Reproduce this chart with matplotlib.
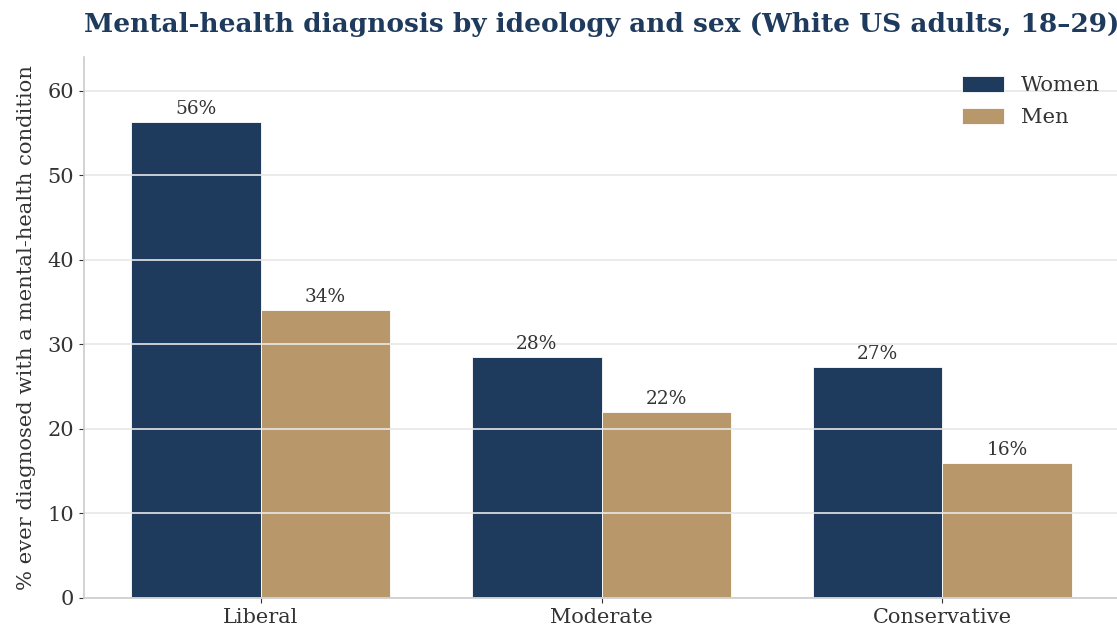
import numpy as np
import matplotlib.pyplot as plt

plt.rcParams['font.family'] = 'DejaVu Serif'

ideology = ['Liberal', 'Moderate', 'Conservative']
women = [56.3, 28.5, 27.3]
men = [34.1, 22.0, 16.0]

navy = '#1e3a5c'
tan = '#b8986a'
txt = '#333333'

fig = plt.figure(figsize=(11.17, 6.33), dpi=100)
ax = fig.add_axes([0.0752, 0.0553, 0.9266, 0.8547])

x = np.arange(len(ideology))
w = 0.38
b1 = ax.bar(x - w/2, women, w, color=navy, edgecolor='white', linewidth=0.6, label='Women')
b2 = ax.bar(x + w/2, men, w, color=tan, edgecolor='white', linewidth=0.6, label='Men')

for bars in (b1, b2):
    for r in bars:
        ax.annotate(f"{r.get_height():.0f}%", (r.get_x() + r.get_width()/2, r.get_height()),
                    xytext=(0, 3), textcoords='offset points', ha='center', va='bottom',
                    fontsize=13.3, color=txt)

ax.set_xticks(x)
ax.set_xticklabels(ideology)
ax.tick_params(axis='both', labelsize=15, colors=txt)
ax.set_ylim(0, 64)
ax.set_ylabel('% ever diagnosed with a mental-health condition', fontsize=15.2, color=txt, labelpad=8)
ax.set_title('Mental-health diagnosis by ideology and sex (White US adults, 18–29)',
             fontsize=19, fontweight='bold', color=navy, pad=18)

ax.yaxis.grid(True, color='#e8e8e8', linewidth=1.2)
for s in ['top', 'right']:
    ax.spines[s].set_visible(False)
for s in ['left', 'bottom']:
    ax.spines[s].set_color('#cccccc')
    ax.spines[s].set_linewidth(1.2)

leg = ax.legend(loc='upper right', frameon=False, fontsize=15.2, handlelength=2.0,
                handleheight=0.8, labelspacing=0.6, bbox_to_anchor=(1.0, 1.0))
for t in leg.get_texts():
    t.set_color(txt)

fig.savefig('out.png', dpi=100)
